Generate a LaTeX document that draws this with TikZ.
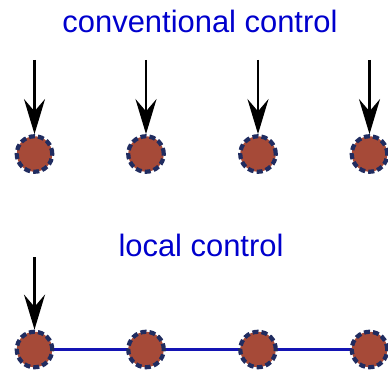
\documentclass[tikz,border=0pt]{standalone}
\usepackage{fontspec}
\setmainfont{Liberation Sans}
\usetikzlibrary{arrows.meta}

\definecolor{sitefill}{RGB}{166,74,56}
\definecolor{siteedge}{RGB}{32,44,96}
\definecolor{labelblue}{RGB}{0,0,205}
\definecolor{chainblue}{RGB}{20,20,180}

\begin{document}
\begin{tikzpicture}[x=0.02cm,y=-0.02cm,
		site/.style={circle,fill=sitefill,draw=siteedge,line width=2.4pt,
			dash pattern=on 3.4pt off 1.8pt,inner sep=0pt,minimum size=0.71cm},
		control/.style={line width=1.3pt,-{Stealth[length=20pt,width=12pt,inset=7pt]}},
		title/.style={text=labelblue,font=\fontsize{17.6}{20}\selectfont,anchor=base},
		chain/.style={chainblue,line width=1.5pt}]
		\useasboundingbox (0,0) rectangle (388,371);

		% Labels
		\node[title] (conv) at (200,33) {conventional control};
		\node[title] (loc) at (201,256) {local control};

		% Upper sites
		\node[site] (u1) at (34.5,154) {};
		\node[site] (u2) at (146,154) {};
		\node[site] (u3) at (258,154) {};
		\node[site] (u4) at (369.5,154) {};

		% Lower chain
		\draw[chain] (34.5,349.5) -- (369.5,349.5);
		\node[site] (l1) at (34.5,349.5) {};
		\node[site] (l2) at (146,349.5) {};
		\node[site] (l3) at (258,349.5) {};
		\node[site] (l4) at (369.5,349.5) {};

		% Control arrows
		\coordinate (s1) at (34.5,60);
		\coordinate (s2) at (146,60);
		\coordinate (s3) at (258,60);
		\coordinate (s4) at (369.5,60);
		\coordinate (t1) at (34.5,257);
		\draw[control] (s1) -- (u1.north);
		\draw[control] (s2) -- (u2.north);
		\draw[control] (s3) -- (u3.north);
		\draw[control] (s4) -- (u4.north);
		\draw[control] (t1) -- (l1.north);
	\end{tikzpicture}
\end{document}
